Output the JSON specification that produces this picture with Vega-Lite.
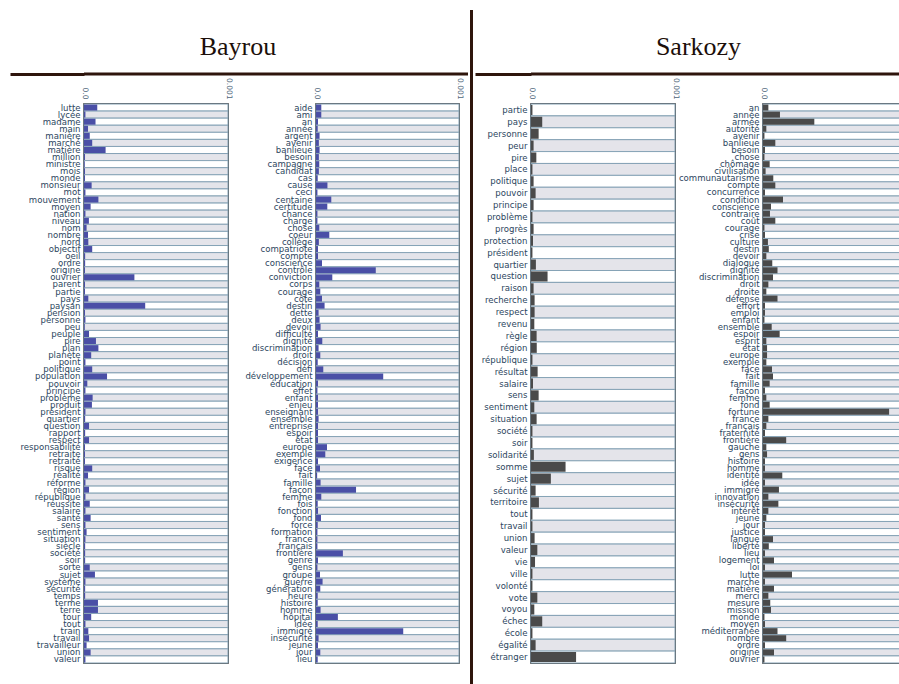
{
  "$schema": "https://vega.github.io/schema/vega-lite/v6.json",
  "padding": {"left": 8, "top": 8, "right": 0, "bottom": 0},
  "config": {
    "font": "DejaVu Sans",
    "view": {"stroke": null},
    "axisY": {"title": null, "ticks": false, "domain": false, "labelFontSize": 9.5, "labelFont": "DejaVu Sans Condensed, Liberation Sans Narrow, DejaVu Sans", "labelColor": "#2c4660", "labelPadding": 4},
    "axisX": {"orient": "top", "title": null, "labelAngle": 90, "labelAlign": "right", "labelBaseline": "middle", "labelFontSize": 7.5, "labelColor": "#4d6478", "ticks": false, "domain": false, "grid": false, "labelPadding": 5, "labelFlush": false}
  },
  "datasets": {
    "b1": [
      {"w": "lutte", "v": 0.000092}, {"w": "lycée", "v": 0.00001}, {"w": "madame", "v": 0.00008}, {"w": "main", "v": 0.000028},
      {"w": "manière", "v": 0.00004}, {"w": "marché", "v": 0.000057}, {"w": "matière", "v": 0.00015}, {"w": "million", "v": 0.000007},
      {"w": "ministre", "v": 0.000005}, {"w": "mois", "v": 0.000007}, {"w": "monde", "v": 0.000007}, {"w": "monsieur", "v": 0.000053},
      {"w": "mot", "v": 0.00001}, {"w": "mouvement", "v": 0.0001}, {"w": "moyen", "v": 0.000046}, {"w": "nation", "v": 0.00001},
      {"w": "niveau", "v": 0.000034}, {"w": "nom", "v": 0.000018}, {"w": "nombre", "v": 0.000028}, {"w": "nord", "v": 0.00003},
      {"w": "objectif", "v": 0.000057}, {"w": "oeil", "v": 0.000008}, {"w": "ordre", "v": 0.000008}, {"w": "origine", "v": 0.000007},
      {"w": "ouvrier", "v": 0.00035}, {"w": "parent", "v": 0.000007}, {"w": "partie", "v": 0.000007}, {"w": "pays", "v": 0.00003},
      {"w": "paysan", "v": 0.000425}, {"w": "pension", "v": 0.000007}, {"w": "personne", "v": 0.00001}, {"w": "peu", "v": 0.000005},
      {"w": "peuple", "v": 0.000035}, {"w": "pire", "v": 0.000083}, {"w": "plan", "v": 0.0001}, {"w": "planète", "v": 0.00005},
      {"w": "point", "v": 0.00001}, {"w": "politique", "v": 0.000057}, {"w": "population", "v": 0.00016}, {"w": "pouvoir", "v": 0.000023},
      {"w": "principe", "v": 0.00001}, {"w": "problème", "v": 0.00006}, {"w": "produit", "v": 0.000055}, {"w": "président", "v": 0.00001},
      {"w": "quartier", "v": 0.000008}, {"w": "question", "v": 0.000035}, {"w": "rapport", "v": 0.000008}, {"w": "respect", "v": 0.000035},
      {"w": "responsabilité", "v": 0.000007}, {"w": "retraite", "v": 0.000007}, {"w": "retraité", "v": 0.000007}, {"w": "risque", "v": 0.000057},
      {"w": "réalité", "v": 0.000028}, {"w": "réforme", "v": 0.00001}, {"w": "région", "v": 0.000035}, {"w": "république", "v": 0.00001},
      {"w": "réussite", "v": 0.00004}, {"w": "salaire", "v": 0.00001}, {"w": "santé", "v": 0.000046}, {"w": "sens", "v": 0.00001},
      {"w": "sentiment", "v": 0.000018}, {"w": "situation", "v": 0.00001}, {"w": "siècle", "v": 0.000008}, {"w": "société", "v": 0.000008},
      {"w": "soir", "v": 0.000008}, {"w": "sorte", "v": 0.00004}, {"w": "sujet", "v": 0.000076}, {"w": "système", "v": 0.00001},
      {"w": "sécurité", "v": 0.000008}, {"w": "temps", "v": 0.000008}, {"w": "terme", "v": 0.000097}, {"w": "terre", "v": 0.000097},
      {"w": "tour", "v": 0.00005}, {"w": "tout", "v": 0.00001}, {"w": "train", "v": 0.00003}, {"w": "travail", "v": 0.000035},
      {"w": "travailleur", "v": 0.000018}, {"w": "union", "v": 0.000046}, {"w": "valeur", "v": 0.00001}
    ],
    "b2": [
      {"w": "aide", "v": 0.000037}, {"w": "ami", "v": 0.000037}, {"w": "an", "v": 0.000014}, {"w": "année", "v": 0.000012},
      {"w": "argent", "v": 0.000025}, {"w": "avenir", "v": 0.00002}, {"w": "banlieue", "v": 0.000025}, {"w": "besoin", "v": 0.00002},
      {"w": "campagne", "v": 0.000023}, {"w": "candidat", "v": 0.00002}, {"w": "cas", "v": 0.000012}, {"w": "cause", "v": 0.00008},
      {"w": "ceci", "v": 0.00001}, {"w": "centaine", "v": 0.000107}, {"w": "certitude", "v": 0.000079}, {"w": "chance", "v": 0.00001},
      {"w": "charge", "v": 0.00001}, {"w": "chose", "v": 0.000023}, {"w": "coeur", "v": 0.000093}, {"w": "collège", "v": 0.00002},
      {"w": "compatriote", "v": 0.000014}, {"w": "compte", "v": 0.000014}, {"w": "conscience", "v": 0.000042}, {"w": "contrôle", "v": 0.000418},
      {"w": "conviction", "v": 0.000114}, {"w": "corps", "v": 0.000023}, {"w": "courage", "v": 0.00003}, {"w": "côte", "v": 0.000042},
      {"w": "destin", "v": 0.00006}, {"w": "dette", "v": 0.000018}, {"w": "deux", "v": 0.000025}, {"w": "devoir", "v": 0.000032},
      {"w": "difficulté", "v": 0.000014}, {"w": "dignité", "v": 0.000044}, {"w": "discrimination", "v": 0.000018}, {"w": "droit", "v": 0.00003},
      {"w": "décision", "v": 0.000012}, {"w": "défi", "v": 0.000051}, {"w": "développement", "v": 0.00047}, {"w": "éducation", "v": 0.000014},
      {"w": "effet", "v": 0.00001}, {"w": "enfant", "v": 0.000014}, {"w": "enjeu", "v": 0.000014}, {"w": "enseignant", "v": 0.000014},
      {"w": "ensemble", "v": 0.000018}, {"w": "entreprise", "v": 0.000014}, {"w": "espoir", "v": 0.000014}, {"w": "état", "v": 0.000014},
      {"w": "europe", "v": 0.000077}, {"w": "exemple", "v": 0.000065}, {"w": "exigence", "v": 0.000014}, {"w": "face", "v": 0.000028},
      {"w": "fait", "v": 0.000008}, {"w": "famille", "v": 0.000032}, {"w": "façon", "v": 0.00028}, {"w": "femme", "v": 0.000037},
      {"w": "fois", "v": 0.000012}, {"w": "fonction", "v": 0.000014}, {"w": "fond", "v": 0.000035}, {"w": "force", "v": 0.000012},
      {"w": "formation", "v": 0.00001}, {"w": "france", "v": 0.00001}, {"w": "français", "v": 0.00001}, {"w": "frontière", "v": 0.000188},
      {"w": "genre", "v": 0.000014}, {"w": "gens", "v": 0.00001}, {"w": "groupe", "v": 0.000028}, {"w": "guerre", "v": 0.000046},
      {"w": "génération", "v": 0.00003}, {"w": "heure", "v": 0.000012}, {"w": "histoire", "v": 0.000012}, {"w": "homme", "v": 0.000032},
      {"w": "hôpital", "v": 0.000153}, {"w": "idée", "v": 0.000012}, {"w": "immigré", "v": 0.00061}, {"w": "insécurité", "v": 0.000018},
      {"w": "jeune", "v": 0.000014}, {"w": "jour", "v": 0.00003}, {"w": "lieu", "v": 0.000012}
    ],
    "s1": [
      {"w": "partie", "v": 0.00001}, {"w": "pays", "v": 0.000078}, {"w": "personne", "v": 0.000053}, {"w": "peur", "v": 0.000018},
      {"w": "pire", "v": 0.000037}, {"w": "place", "v": 0.00001}, {"w": "politique", "v": 0.000018}, {"w": "pouvoir", "v": 0.000032},
      {"w": "principe", "v": 0.000018}, {"w": "problème", "v": 0.00001}, {"w": "progrès", "v": 0.000018}, {"w": "protection", "v": 0.000014},
      {"w": "président", "v": 0.00001}, {"w": "quartier", "v": 0.000034}, {"w": "question", "v": 0.000115}, {"w": "raison", "v": 0.000018},
      {"w": "recherche", "v": 0.000025}, {"w": "respect", "v": 0.000025}, {"w": "revenu", "v": 0.000023}, {"w": "règle", "v": 0.000039},
      {"w": "région", "v": 0.00004}, {"w": "république", "v": 0.00001}, {"w": "résultat", "v": 0.000046}, {"w": "salaire", "v": 0.000014},
      {"w": "sens", "v": 0.000053}, {"w": "sentiment", "v": 0.000023}, {"w": "situation", "v": 0.000039}, {"w": "société", "v": 0.00001},
      {"w": "soir", "v": 0.00001}, {"w": "solidarité", "v": 0.00002}, {"w": "somme", "v": 0.00024}, {"w": "sujet", "v": 0.000138},
      {"w": "sécurité", "v": 0.000032}, {"w": "territoire", "v": 0.000055}, {"w": "tout", "v": 0.00001}, {"w": "travail", "v": 0.00001},
      {"w": "union", "v": 0.000025}, {"w": "valeur", "v": 0.000044}, {"w": "vie", "v": 0.000028}, {"w": "ville", "v": 0.00001},
      {"w": "volonté", "v": 0.00001}, {"w": "vote", "v": 0.000044}, {"w": "voyou", "v": 0.000023}, {"w": "échec", "v": 0.000078},
      {"w": "école", "v": 0.00001}, {"w": "égalité", "v": 0.000032}, {"w": "étranger", "v": 0.000313}
    ],
    "s2": [
      {"w": "an", "v": 0.000037}, {"w": "année", "v": 0.000117}, {"w": "armée", "v": 0.000354}, {"w": "autorité", "v": 0.000023},
      {"w": "avenir", "v": 0.00001}, {"w": "banlieue", "v": 0.000085}, {"w": "besoin", "v": 0.000014}, {"w": "chose", "v": 0.00001},
      {"w": "chômage", "v": 0.000046}, {"w": "civilisation", "v": 0.000018}, {"w": "communautarisme", "v": 0.000071}, {"w": "compte", "v": 0.000085},
      {"w": "concurrence", "v": 0.000014}, {"w": "condition", "v": 0.000138}, {"w": "conscience", "v": 0.000055}, {"w": "contraire", "v": 0.000048},
      {"w": "coût", "v": 0.000085}, {"w": "courage", "v": 0.00001}, {"w": "crise", "v": 0.000014}, {"w": "culture", "v": 0.000034},
      {"w": "destin", "v": 0.00004}, {"w": "devoir", "v": 0.000023}, {"w": "dialogue", "v": 0.000064}, {"w": "dignité", "v": 0.0001},
      {"w": "discrimination", "v": 0.000069}, {"w": "droit", "v": 0.000037}, {"w": "droite", "v": 0.000023}, {"w": "défense", "v": 0.0001},
      {"w": "effort", "v": 0.000014}, {"w": "emploi", "v": 0.000014}, {"w": "enfant", "v": 0.00001}, {"w": "ensemble", "v": 0.00006},
      {"w": "espoir", "v": 0.000115}, {"w": "esprit", "v": 0.000023}, {"w": "état", "v": 0.000028}, {"w": "europe", "v": 0.000028},
      {"w": "exemple", "v": 0.000023}, {"w": "face", "v": 0.000062}, {"w": "fait", "v": 0.000069}, {"w": "famille", "v": 0.000046},
      {"w": "façon", "v": 0.000014}, {"w": "femme", "v": 0.000023}, {"w": "fond", "v": 0.000046}, {"w": "fortune", "v": 0.00087},
      {"w": "france", "v": 0.000037}, {"w": "français", "v": 0.000023}, {"w": "fraternité", "v": 0.000014}, {"w": "frontière", "v": 0.00016},
      {"w": "gauche", "v": 0.000023}, {"w": "gens", "v": 0.000028}, {"w": "histoire", "v": 0.000014}, {"w": "homme", "v": 0.000014},
      {"w": "identité", "v": 0.000133}, {"w": "idée", "v": 0.000014}, {"w": "immigré", "v": 0.00011}, {"w": "innovation", "v": 0.000037},
      {"w": "insécurité", "v": 0.000106}, {"w": "intérêt", "v": 0.000037}, {"w": "jeune", "v": 0.000023}, {"w": "jour", "v": 0.000014},
      {"w": "justice", "v": 0.000014}, {"w": "langue", "v": 0.000069}, {"w": "liberté", "v": 0.00004}, {"w": "lieu", "v": 0.000014},
      {"w": "logement", "v": 0.000076}, {"w": "loi", "v": 0.000014}, {"w": "lutte", "v": 0.0002}, {"w": "marche", "v": 0.000014},
      {"w": "matière", "v": 0.000076}, {"w": "merci", "v": 0.000037}, {"w": "mesure", "v": 0.00005}, {"w": "mission", "v": 0.000055},
      {"w": "monde", "v": 0.00001}, {"w": "moyen", "v": 0.000014}, {"w": "méditerranée", "v": 0.0001}, {"w": "nombre", "v": 0.00016},
      {"w": "ordre", "v": 0.000014}, {"w": "origine", "v": 0.000076}, {"w": "ouvrier", "v": 0.00001}
    ]
  },
  "hconcat": [
    {
      "vconcat": [
        {
          "width": 384, "height": 64,
          "data": {"values": [{"name": "Bayrou"}]},
          "layer": [
            {"mark": {"type": "text", "font": "Liberation Serif", "fontSize": 26, "color": "#1c0f0a", "baseline": "middle", "dx": -38},
             "encoding": {"text": {"field": "name"}, "y": {"datum": 0.42, "type": "quantitative", "scale": {"domain": [0, 1], "nice": false},
               "axis": {"values": [0], "labels": false, "domain": false, "grid": false, "ticks": true, "tickSize": 74, "tickWidth": 3, "tickColor": "#2e150c", "minExtent": 0}}}},
            {"mark": {"type": "rule", "color": "#2e150c", "strokeWidth": 3},
             "encoding": {"y": {"datum": 0, "type": "quantitative"}}}
          ]
        },
        {
          "hconcat": [
            {
              "width": 144, "height": 559,
              "data": {"name": "b1"},
              "view": {"stroke": "#151515", "strokeWidth": 1.5},
              "encoding": {"y": {"field": "w", "type": "nominal", "sort": null, "scale": {"paddingInner": 0, "paddingOuter": 0}, "axis": {"minExtent": 74}}},
              "layer": [
                {"transform": [{"window": [{"op": "row_number", "as": "rn"}]}],
                 "mark": {"type": "bar", "stroke": "#86a3b6", "strokeWidth": 1},
                 "encoding": {
                   "x": {"datum": 0, "type": "quantitative", "scale": {"domain": [0, 0.001], "nice": false}, "axis": {"values": [0, 0.001], "labelExpr": "datum.value == 0 ? '0.0' : '0.001'"}},
                   "x2": {"datum": 0.001},
                   "fill": {"condition": {"test": "datum.rn % 2 == 1", "value": "#ffffff"}, "value": "#e4e4ea"}}},
                {"mark": {"type": "bar", "color": "#4a4fa6", "height": {"band": 0.85}},
                 "encoding": {"x": {"field": "v", "type": "quantitative"}}}
              ]
            },
            {
              "width": 143, "height": 559,
              "data": {"name": "b2"},
              "view": {"stroke": "#151515", "strokeWidth": 1.5},
              "encoding": {"y": {"field": "w", "type": "nominal", "sort": null, "scale": {"paddingInner": 0, "paddingOuter": 0}}},
              "layer": [
                {"transform": [{"window": [{"op": "row_number", "as": "rn"}]}],
                 "mark": {"type": "bar", "stroke": "#86a3b6", "strokeWidth": 1},
                 "encoding": {
                   "x": {"datum": 0, "type": "quantitative", "scale": {"domain": [0, 0.001], "nice": false}, "axis": {"values": [0, 0.001], "labelExpr": "datum.value == 0 ? '0.0' : '0.001'"}},
                   "x2": {"datum": 0.001},
                   "fill": {"condition": {"test": "datum.rn % 2 == 1", "value": "#ffffff"}, "value": "#e4e4ea"}}},
                {"mark": {"type": "bar", "color": "#4a4fa6", "height": {"band": 0.85}},
                 "encoding": {"x": {"field": "v", "type": "quantitative"}}}
              ]
            }
          ],
          "spacing": 88,
          "bounds": "flush"
        }
      ],
      "spacing": 0
    },
    {
      "width": 3, "height": 676,
      "data": {"values": [{}]},
      "mark": {"type": "rule", "color": "#2e150c", "strokeWidth": 3},
      "encoding": {"x": {"datum": 0.5, "type": "quantitative", "scale": {"domain": [0, 1]}, "axis": null}}
    },
    {
      "vconcat": [
        {
          "width": 369, "height": 64,
          "data": {"values": [{"name": "Sarkozy"}]},
          "layer": [
            {"mark": {"type": "text", "font": "Liberation Serif", "fontSize": 26, "color": "#1c0f0a", "baseline": "middle", "dx": -17},
             "encoding": {"text": {"field": "name"}, "y": {"datum": 0.42, "type": "quantitative", "scale": {"domain": [0, 1], "nice": false},
               "axis": {"values": [0], "labels": false, "domain": false, "grid": false, "ticks": true, "tickSize": 56, "tickWidth": 3, "tickColor": "#2e150c", "minExtent": 0}}}},
            {"mark": {"type": "rule", "color": "#2e150c", "strokeWidth": 3},
             "encoding": {"y": {"datum": 0, "type": "quantitative"}}}
          ]
        },
        {
          "hconcat": [
            {
              "width": 144, "height": 559,
              "data": {"name": "s1"},
              "view": {"stroke": "#151515", "strokeWidth": 1.5},
              "encoding": {"y": {"field": "w", "type": "nominal", "sort": null, "scale": {"paddingInner": 0, "paddingOuter": 0}, "axis": {"minExtent": 56}}},
              "layer": [
                {"transform": [{"window": [{"op": "row_number", "as": "rn"}]}],
                 "mark": {"type": "bar", "stroke": "#86a3b6", "strokeWidth": 1},
                 "encoding": {
                   "x": {"datum": 0, "type": "quantitative", "scale": {"domain": [0, 0.001], "nice": false}, "axis": {"values": [0, 0.001], "labelExpr": "datum.value == 0 ? '0.0' : '0.001'"}},
                   "x2": {"datum": 0.001},
                   "fill": {"condition": {"test": "datum.rn % 2 == 1", "value": "#ffffff"}, "value": "#e4e4ea"}}},
                {"mark": {"type": "bar", "color": "#4a4a4a", "height": {"band": 0.85}},
                 "encoding": {"x": {"field": "v", "type": "quantitative"}}}
              ]
            },
            {
              "width": 138, "height": 559,
              "data": {"name": "s2"},
              "view": {"stroke": "#151515", "strokeWidth": 1.5},
              "encoding": {"y": {"field": "w", "type": "nominal", "sort": null, "scale": {"paddingInner": 0, "paddingOuter": 0}}},
              "layer": [
                {"transform": [{"window": [{"op": "row_number", "as": "rn"}]}],
                 "mark": {"type": "bar", "stroke": "#86a3b6", "strokeWidth": 1},
                 "encoding": {
                   "x": {"datum": 0, "type": "quantitative", "scale": {"domain": [0, 0.000952], "nice": false, "clamp": true}, "axis": {"values": [0], "labelExpr": "'0.0'"}},
                   "x2": {"datum": 0.001},
                   "fill": {"condition": {"test": "datum.rn % 2 == 1", "value": "#ffffff"}, "value": "#e4e4ea"}}},
                {"mark": {"type": "bar", "color": "#4a4a4a", "height": {"band": 0.85}},
                 "encoding": {"x": {"field": "v", "type": "quantitative"}}}
              ]
            }
          ],
          "spacing": 88,
          "bounds": "flush"
        }
      ],
      "spacing": 0
    }
  ],
  "spacing": 0
}
